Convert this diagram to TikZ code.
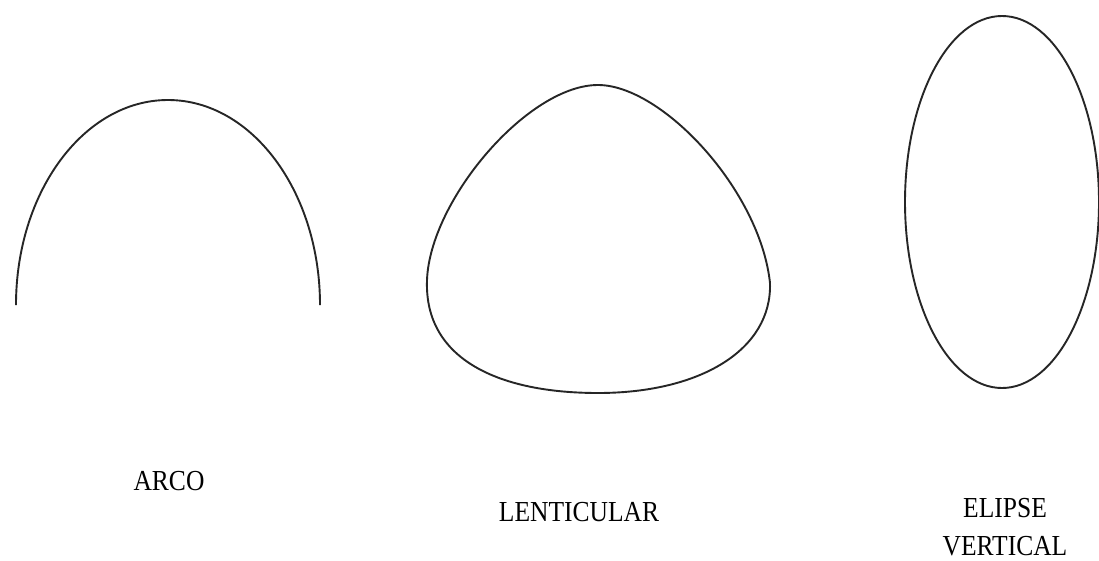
\documentclass[tikz,border=0pt]{standalone}
\usepackage{fontspec}
\setmainfont{Liberation Serif}
\begin{document}
\begin{tikzpicture}[x=1pt,y=-1pt,
  shapeline/.style={line width=1.9pt,draw=black!85},
  lbl/.style={anchor=base,inner sep=0pt,font=\fontsize{29}{34}\selectfont,xscale=0.88,text=black}]
\useasboundingbox (0,0) rectangle (1099,560);
\fill[white] (0,0) rectangle (1099,560);
% arco
\draw[shapeline] (16,305) arc[start angle=180,end angle=0,x radius=152,y radius=-205];
% lenticular
\draw[shapeline] (598,85) .. controls (662,85) and (760,190) .. (770,283)
  .. controls (772,350) and (700,393) .. (598,393)
  .. controls (500,393) and (424,360) .. (427,280)
  .. controls (430,200) and (528,85) .. (598,85) -- cycle;
% elipse vertical
\draw[shapeline] (1002,202) ellipse[x radius=97,y radius=186];
% labels
\node[lbl] (arco) at (169,490) {ARCO};
\node[lbl] (lent) at (579,521) {LENTICULAR};
\node[lbl] (eli1) at (1005,517) {ELIPSE};
\node[lbl] (eli2) at (1005,555) {VERTICAL};
\end{tikzpicture}
\end{document}
